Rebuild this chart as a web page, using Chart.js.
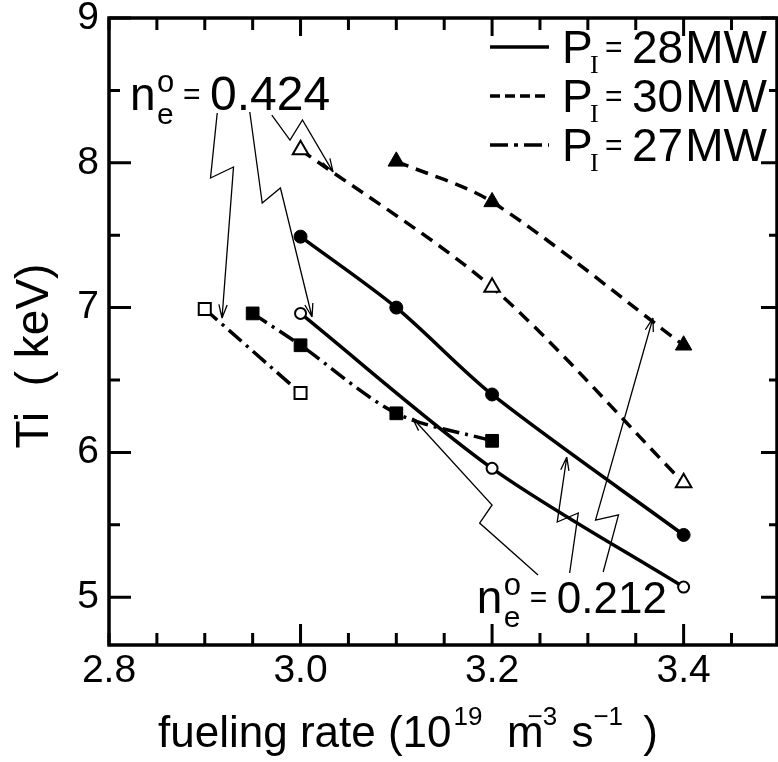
<!DOCTYPE html>
<html>
<head>
<meta charset="utf-8">
<script src="https://cdn.jsdelivr.net/npm/chart.js@4.4.1/dist/chart.umd.min.js"></script>
<style>
html, body { margin: 0; padding: 0; background: #fff; }
</style>
</head>
<body>
<canvas id="myChart" width="778" height="762"></canvas>
<script>
// fueling rate (10^19 m^-3 s^-1) vs ion temperature Ti (keV)
var xTicks = [2.8, 3.0, 3.2, 3.4];
var yTicks = [5, 6, 7, 8, 9];

// P_I = 28 MW (solid); lo = n_e^0 0.212 (filled), hi = 0.424 (open)
var x28lo = [3.0, 3.1, 3.2, 3.4];
var t28lo = [7.49, 7.00, 6.40, 5.43];
var x28hi = [3.0, 3.2, 3.4];
var t28hi = [6.96, 5.89, 5.07];
// P_I = 30 MW (dashed)
var x30lo = [3.1, 3.2, 3.4];
var t30lo = [8.01, 7.73, 6.74];
var x30hi = [3.0, 3.2, 3.4];
var t30hi = [8.09, 7.14, 5.79];
// P_I = 27 MW (dash-dot)
var x27lo = [2.95, 3.0, 3.1, 3.2];
var t27lo = [6.96, 6.74, 6.27, 6.08];
var x27hi = [2.9, 3.0];
var t27hi = [6.99, 6.41];

var powers = ['28', '30', '27'];
var densities = ['0.424', '0.212'];

// annotation arrows, in data units (start, zig, zag, tip)
var arrows424 = [
  [[2.913, 8.344], [2.906, 7.895], [2.930, 7.971], [2.918, 6.928]],
  [[2.947, 8.351], [2.960, 7.722], [2.979, 7.826], [3.012, 6.935]],
  [[2.970, 8.330], [2.989, 8.157], [3.002, 8.296], [3.034, 7.936]]
];
var arrows212 = [
  [[3.248, 5.153], [3.187, 5.512], [3.200, 5.637], [3.117, 6.238]],
  [[3.281, 5.167], [3.290, 5.582], [3.268, 5.519], [3.278, 5.968]],
  [[3.316, 5.174], [3.332, 5.568], [3.308, 5.533], [3.368, 6.928]]
];
var label424 = [2.822, 8.365];
var label212 = [3.184, 4.891];

var FONT = '"Liberation Sans", Arial, sans-serif';
var SOLID = [], DASH = [13, 8], DASHDOT = [17, 6, 3, 6];

function pts(xs, ys) {
  return xs.map(function (x, i) { return {x: x, y: ys[i]}; });
}

function series(xs, ys, dash, style, open, r) {
  return {
    data: pts(xs, ys),
    borderColor: '#000',
    borderWidth: 3.5,
    borderDash: dash,
    tension: 0.3,
    pointStyle: style,
    pointRadius: r,
    pointHoverRadius: r,
    pointBackgroundColor: open ? '#fff' : '#000',
    pointBorderColor: '#000',
    pointBorderWidth: open ? 2 : 1,
    fill: false,
    clip: false
  };
}

var datasets = [
  series(x28lo, t28lo, SOLID, 'circle', false, 6.5),
  series(x28hi, t28hi, SOLID, 'circle', true, 5.5),
  series(x30lo, t30lo, DASH, 'triangle', false, 9.5),
  series(x30hi, t30hi, DASH, 'triangle', true, 9),
  series(x27lo, t27lo, DASHDOT, 'rect', false, 9),
  series(x27hi, t27hi, DASHDOT, 'rect', true, 8.5)
];

function runs(ctx, x, y, parts) {
  parts.forEach(function (p) {
    ctx.font = p.size + 'px ' + (p.family || FONT);
    x += p.dx || 0;
    ctx.fillText(p.t, x, y + (p.dy || 0));
    x += ctx.measureText(p.t).width;
  });
  return x;
}

function arrow(ctx, xs, ys, path) {
  var p = path.map(function (q) { return [xs.getPixelForValue(q[0]), ys.getPixelForValue(q[1])]; });
  ctx.beginPath();
  ctx.moveTo(p[0][0], p[0][1]);
  for (var i = 1; i < p.length; i++) ctx.lineTo(p[i][0], p[i][1]);
  var a = p[p.length - 1], b = p[p.length - 2];
  var ang = Math.atan2(a[1] - b[1], a[0] - b[0]);
  [0.3, -0.3].forEach(function (d) {
    ctx.moveTo(a[0], a[1]);
    ctx.lineTo(a[0] - 14 * Math.cos(ang + d), a[1] - 14 * Math.sin(ang + d));
  });
  ctx.stroke();
}

function densityLabel(ctx, x, y, value, size) {
  ctx.textAlign = 'left';
  ctx.textBaseline = 'alphabetic';
  ctx.font = '46px ' + FONT;
  ctx.fillText('n', x, y);
  ctx.font = '31px ' + FONT;
  ctx.fillText('o', x + 27, y - 18);
  ctx.font = '30px ' + FONT;
  ctx.fillText('e', x + 27, y + 14);
  ctx.font = '30px ' + FONT;
  ctx.fillText('=', x + 53, y - 6);
  ctx.font = size + 'px ' + FONT;
  ctx.fillText(value, x + 80, y);
}

var decor = {
  id: 'decor',
  afterDraw: function (chart) {
    var ctx = chart.ctx, ca = chart.chartArea;
    var xs = chart.scales.x, ys = chart.scales.y;
    ctx.save();
    ctx.strokeStyle = '#000';
    ctx.fillStyle = '#000';
    ctx.setLineDash([]);

    // frame
    ctx.lineWidth = 3.5;
    ctx.strokeRect(ca.left, ca.top, ca.right - ca.left, ca.bottom - ca.top);

    // inward tick marks
    ctx.lineWidth = 3;
    ctx.beginPath();
    for (var i = 0; i <= 14; i++) {
      var v = 2.8 + 0.05 * i;
      var px = xs.getPixelForValue(v);
      var major = Math.round(v * 100) % 20 === 0 && i > 0;
      ctx.moveTo(px, ca.bottom); ctx.lineTo(px, ca.bottom - (major ? 21 : 12));
      ctx.moveTo(px, ca.top); ctx.lineTo(px, ca.top + (major ? 18 : 12));
    }
    for (var j = 0; j <= 8; j++) {
      var w = 5 + 0.5 * j;
      var py = ys.getPixelForValue(w);
      var maj = j % 2 === 0;
      ctx.moveTo(ca.left, py); ctx.lineTo(ca.left + (maj ? 22 : 11), py);
      ctx.moveTo(ca.right, py); ctx.lineTo(ca.right - (maj ? 16 : 8), py);
    }
    ctx.stroke();

    // axis titles
    ctx.textAlign = 'left';
    ctx.textBaseline = 'alphabetic';
    runs(ctx, 158, 747, [
      {t: 'fueling rate (10', size: 44},
      {t: '19', size: 26, dx: 2, dy: -22},
      {t: '  m', size: 44},
      {t: '\u22123', size: 26, dx: -16, dy: -22},
      {t: ' s', size: 44, dx: 2},
      {t: '\u22121', size: 26, dy: -22},
      {t: ' )', size: 44, dx: 8}
    ]);
    ctx.save();
    ctx.translate(48, 356);
    ctx.rotate(-Math.PI / 2);
    ctx.textAlign = 'center';
    ctx.font = '46px ' + FONT;
    ctx.fillText('Ti  ( keV)', 0, 0);
    ctx.restore();

    // legend
    var dashes = [SOLID, [10, 5], [18, 6, 4, 6]];
    for (var k = 0; k < powers.length; k++) {
      var ly = ca.top + 29 + 49 * k;
      ctx.lineWidth = 3.5;
      ctx.setLineDash(dashes[k]);
      ctx.beginPath();
      ctx.moveTo(ca.right - 287, ly); ctx.lineTo(ca.right - 228, ly);
      ctx.stroke();
      ctx.setLineDash([]);
      var bx = ca.right - 215, by = ly + 16;
      runs(ctx, bx, by, [{t: 'P', size: 46}]);
      ctx.font = '26px "Liberation Serif", serif';
      ctx.fillText('I', bx + 28, by + 10);
      ctx.font = '30px ' + FONT;
      ctx.fillText('=', bx + 43, by - 6);
      runs(ctx, bx + 70, by, [{t: powers[k], size: 46}, {t: 'MW', size: 46, dx: 2}]);
    }

    // density annotations
    ctx.lineWidth = 1.3;
    arrows424.forEach(function (a) { arrow(ctx, xs, ys, a); });
    arrows212.forEach(function (a) { arrow(ctx, xs, ys, a); });
    densityLabel(ctx, xs.getPixelForValue(label424[0]), ys.getPixelForValue(label424[1]), densities[0], 48);
    densityLabel(ctx, xs.getPixelForValue(label212[0]), ys.getPixelForValue(label212[1]), densities[1], 44);
    ctx.restore();
  }
};

var ctx = document.getElementById('myChart').getContext('2d');
var myChart = new Chart(ctx, {
  type: 'line',
  data: { datasets: datasets },
  options: {
    responsive: false,
    animation: false,
    events: [],
    layout: { autoPadding: false, padding: { top: 18, right: 1, left: 0, bottom: 0 } },
    plugins: { legend: { display: false }, tooltip: { enabled: false } },
    scales: {
      x: {
        type: 'linear',
        min: 2.8,
        max: 3.4975,
        grid: { display: false, drawTicks: false },
        border: { display: false },
        afterBuildTicks: function (s) { s.ticks = xTicks.map(function (v) { return {value: v}; }); },
        afterFit: function (s) { s.height = 117; s.paddingLeft = 0; s.paddingRight = 0; },
        ticks: {
          color: '#000', padding: 3, maxRotation: 0, autoSkip: false,
          font: { family: FONT, size: 39 },
          callback: function (v) { return Number(v).toFixed(1); }
        }
      },
      y: {
        min: 4.67,
        max: 9,
        grid: { display: false, drawTicks: false },
        border: { display: false },
        afterBuildTicks: function (s) { s.ticks = yTicks.map(function (v) { return {value: v}; }); },
        afterFit: function (s) { s.width = 109; s.paddingTop = 0; s.paddingBottom = 0; },
        ticks: {
          color: '#000', padding: 10, autoSkip: false,
          font: { family: FONT, size: 39 },
          callback: function (v) { return String(v); }
        }
      }
    }
  },
  plugins: [decor]
});
</script>
</body>
</html>
